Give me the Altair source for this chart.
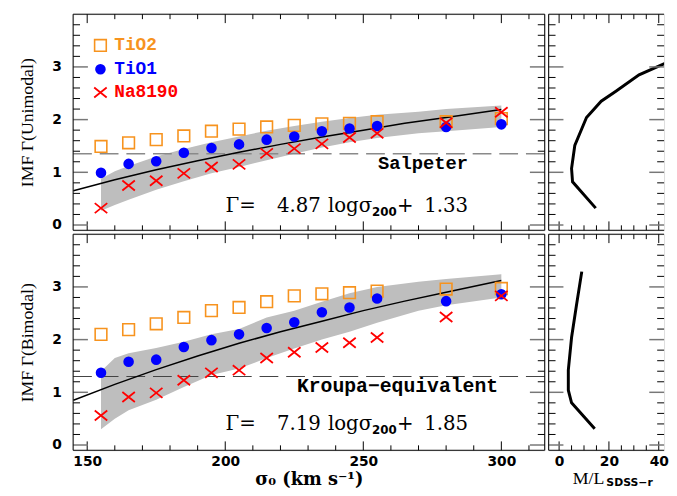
import altair as alt
import pandas as pd

# ---------------- values ----------------
sigma = [155, 165, 175, 185, 195, 205, 215, 225, 235, 245, 255, 280, 300]

uni_tio2 = [1.49, 1.56, 1.62, 1.69, 1.78, 1.82, 1.86, 1.89, 1.92, 1.93, 1.96, 1.96, 2.02]
uni_tio1 = [0.99, 1.16, 1.21, 1.37, 1.46, 1.53, 1.62, 1.68, 1.78, 1.83, 1.88, 1.86, 1.91]
uni_na = [0.32, 0.75, 0.84, 0.98, 1.10, 1.15, 1.36, 1.45, 1.54, 1.66, 1.74, 1.94, 2.14]

bi_tio2 = [2.10, 2.19, 2.30, 2.42, 2.55, 2.61, 2.72, 2.83, 2.87, 2.89, 2.92, 2.96, 2.97]
bi_tio1 = [1.37, 1.58, 1.62, 1.86, 1.99, 2.10, 2.22, 2.33, 2.52, 2.61, 2.78, 2.73, 2.86]
bi_na = [0.56, 0.91, 0.99, 1.23, 1.37, 1.42, 1.65, 1.76, 1.85, 1.94, 2.04, 2.43, 2.83]

band_sigma = [155, 160, 165, 175, 185, 195, 205, 215, 225, 235, 245, 255, 270, 280, 300]
uni_band_lo = [0.27, 0.38, 0.48, 0.67, 0.83, 0.98, 1.10, 1.23, 1.35, 1.47, 1.57, 1.65, 1.74, 1.78, 1.86]
uni_band_hi = [0.88, 1.02, 1.12, 1.30, 1.44, 1.57, 1.68, 1.79, 1.88, 1.96, 2.03, 2.09, 2.15, 2.20, 2.27]
bi_band_lo = [0.30, 0.50, 0.66, 0.86, 1.10, 1.33, 1.45, 1.65, 1.83, 2.00, 2.15, 2.32, 2.55, 2.65, 2.80]
bi_band_hi = [1.40, 1.65, 1.74, 1.84, 1.96, 2.10, 2.20, 2.42, 2.55, 2.72, 2.88, 3.00, 3.10, 3.15, 3.24]

fit_sigma = [145, 160, 175, 190, 205, 220, 235, 250, 265, 280, 300]
uni_fit = [0.65, 0.86, 1.05, 1.22, 1.38, 1.53, 1.67, 1.80, 1.93, 2.04, 2.19]
bi_fit = [0.85, 1.15, 1.43, 1.69, 1.93, 2.15, 2.35, 2.55, 2.73, 2.90, 3.12]

uni_ml = [14.7, 5.4, 5.0, 6.3, 11.0, 16.9, 22.8, 32.1, 45.4]
uni_ml_gamma = [0.32, 0.82, 1.07, 1.51, 2.04, 2.35, 2.54, 2.85, 3.13]
bi_ml = [14.3, 5.0, 3.7, 3.7, 5.0, 7.0, 9.1]
bi_ml_gamma = [0.31, 0.80, 1.04, 1.42, 2.04, 2.66, 3.29]

salpeter_gamma = 1.35
kroupa_gamma = 1.30

series_names = ["TiO2", "TiO1", "Na8190"]
uni_formula = ["4.87", "1.33"]
bi_formula = ["7.19", "1.85"]

x_major = [150, 200, 250, 300]
x_minor = [160, 170, 180, 190, 210, 220, 230, 240, 260, 270, 280, 290, 310]
y_major = [0, 1, 2, 3]
y_minor = [0.2, 0.4, 0.6, 0.8, 1.2, 1.4, 1.6, 1.8, 2.2, 2.4, 2.6, 2.8, 3.2, 3.4, 3.6, 3.8]
ml_major = [0, 20, 40]
ml_minor = [5, 10, 15, 25, 30, 35]

# ---------------- styling ----------------
WL, WR, H = 478, 117, 219
ORANGE, BLUE, RED = "#f7931e", "#0000ff", "#ff0000"
CROSS = "M-1,-0.8L1,0.8M-1,0.8L1,-0.8"

sxL = alt.Scale(domain=[144.9, 315.7], nice=False, zero=False)
sxR = alt.Scale(domain=[-4.2, -4.2 + WR / 2.525], nice=False, zero=False)
sy = alt.Scale(domain=[-0.1, 4.0], nice=False, zero=False)

lab = dict(labelFont="DejaVu Sans", labelFontWeight="bold", labelFontSize=14,
           labelColor="black", ticks=False, domain=False, grid=False)


def yaxis(title):
    return alt.Axis(values=y_major, labelPadding=12, title=title, titleFont="Liberation Serif",
                    titleFontSize=18, titleFontWeight="normal", titleColor="black",
                    titlePadding=15, **lab)


xax_bot = alt.Axis(values=x_major, labelPadding=4, title="σ₀ (km s⁻¹)", titleFont="DejaVu Serif",
                   titleFontWeight="bold", titleFontSize=18, titleColor="black", titlePadding=3, **lab)
xax_ml = alt.Axis(values=ml_major, labelPadding=4, title=None, **lab)

one = pd.DataFrame({"k": [0]})


def ticks(sx, xax, yax, xmaj, xmin, W):
    layers = []
    for vals, ln in [(xmaj, 9), (xmin, 5)]:
        base = alt.Chart(pd.DataFrame({"v": vals})).mark_rule(color="black", strokeWidth=1)
        X = alt.X("v:Q", scale=sx, axis=xax)
        layers.append(base.encode(x=X, y=alt.value(H), y2=alt.value(H - ln)))
        layers.append(base.encode(x=X, y=alt.value(0), y2=alt.value(ln)))
    for vals, ln, col, sw in [(y_major, 15, "#777777", 1.5), (y_minor, 7, "black", 1)]:
        base = alt.Chart(pd.DataFrame({"v": vals})).mark_rule(color=col, strokeWidth=sw)
        Y = alt.Y("v:Q", scale=sy, axis=yax)
        layers.append(base.encode(y=Y, x=alt.value(0), x2=alt.value(ln)))
        layers.append(base.encode(y=Y, x=alt.value(W), x2=alt.value(W - ln)))
    return layers


def frame(W, right=True):
    sides = [dict(x=alt.value(0), x2=alt.value(W), y=alt.value(0)),
             dict(x=alt.value(0), x2=alt.value(W), y=alt.value(H)),
             dict(x=alt.value(0), y=alt.value(0), y2=alt.value(H))]
    if right:
        sides.append(dict(x=alt.value(W), y=alt.value(0), y2=alt.value(H)))
    return [alt.Chart(one).mark_rule(color="black", strokeWidth=1).encode(**s) for s in sides]


def left_panel(tio2, tio1, na, lo, hi, fit, ref_g, ref_label, ref_pos, ref_size, ref_col,
               formula, f_y, xax, yax, legend):
    X = lambda f: alt.X(f, type="quantitative", scale=sxL, axis=xax)
    Y = lambda f: alt.Y(f, type="quantitative", scale=sy, axis=yax)
    XD = lambda v: alt.XDatum(v, scale=sxL, axis=xax)
    YD = lambda v: alt.YDatum(v, scale=sy, axis=yax)

    pts = pd.DataFrame({"x": sigma, "a": tio2, "b": tio1, "c": na})
    band = pd.DataFrame({"x": band_sigma, "lo": lo, "hi": hi})
    fitdf = pd.DataFrame({"x": fit_sigma, "g": fit})

    layers = [
        alt.Chart(band).mark_area(color="#bebebe", opacity=1).encode(x=X("x"), y=Y("lo"), y2=alt.Y2("hi")),
        alt.Chart(one).mark_rule(color=ref_col[0], strokeWidth=ref_col[1], strokeDash=[19, 8]).encode(y=YD(ref_g)),
        alt.Chart(fitdf).mark_line(color="black", strokeWidth=1.5).encode(x=X("x"), y=Y("g")),
        alt.Chart(pts).mark_point(shape="square", filled=False, color=ORANGE, size=140,
                                  strokeWidth=1.6, opacity=1).encode(x=X("x"), y=Y("a")),
        alt.Chart(pts).mark_point(shape="circle", filled=True, color=BLUE, size=115,
                                  opacity=1).encode(x=X("x"), y=Y("b")),
        alt.Chart(pts).mark_point(shape=CROSS, filled=False, color=RED, size=160,
                                  strokeWidth=1.8, opacity=1).encode(x=X("x"), y=Y("c")),
        alt.Chart(one).mark_text(font="Liberation Mono", fontSize=ref_size, fontWeight="bold",
                                 color="black", baseline="middle").encode(
            x=XD(ref_pos[0]), y=YD(ref_pos[1]), text=alt.value(ref_label)),
    ]
    pieces = [("Γ=", 205.6, 0, 20, "DejaVu Serif", "normal"),
              (formula[0], 226.7, 0, 20, "DejaVu Serif", "normal"),
              ("logσ", 245.2, 0, 20, "DejaVu Serif", "normal"),
              ("200", 257.6, 6, 12, "DejaVu Sans", "bold"),
              ("+", 265.2, 0, 20, "DejaVu Serif", "normal"),
              (formula[1], 280.0, 0, 20, "DejaVu Serif", "normal")]
    for t, xv, dy, fs, font, fw in pieces:
        layers.append(alt.Chart(one).mark_text(font=font, fontSize=fs, fontWeight=fw, color="black",
                                               baseline="middle", dy=dy).encode(
            x=XD(xv), y=YD(f_y), text=alt.value(t)))
    if legend:
        ys = [31.7, 55.7, 79.3]
        layers += [
            alt.Chart(one).mark_point(shape="square", filled=False, color=ORANGE, size=140,
                                      strokeWidth=1.6, opacity=1).encode(x=alt.value(27.7), y=alt.value(ys[0])),
            alt.Chart(one).mark_point(shape="circle", filled=True, color=BLUE, size=115,
                                      opacity=1).encode(x=alt.value(27.7), y=alt.value(ys[1])),
            alt.Chart(one).mark_point(shape=CROSS, filled=False, color=RED, size=160,
                                      strokeWidth=1.8, opacity=1).encode(x=alt.value(27.7), y=alt.value(ys[2])),
        ]
        for name, yv, col in zip(series_names, ys, [ORANGE, BLUE, RED]):
            layers.append(alt.Chart(one).mark_text(font="Liberation Mono", fontSize=18, fontWeight="bold",
                                                   color=col, align="left", baseline="middle").encode(
                x=alt.value(41.7), y=alt.value(yv), text=alt.value(name)))
    layers += ticks(sxL, xax, yax, x_major, x_minor, WL)
    layers += frame(WL, True)
    return alt.layer(*layers).properties(width=WL, height=H)


def right_panel(ml, g, xax, title):
    df = pd.DataFrame({"m": ml, "g": g, "i": list(range(len(ml)))})
    layers = [
        alt.Chart(df).mark_line(color="black", strokeWidth=3, clip=True).encode(
            x=alt.X("m:Q", scale=sxR, axis=xax), y=alt.Y("g:Q", scale=sy, axis=None),
            order=alt.Order("i:Q")),
    ]
    layers += ticks(sxR, xax, None, ml_major, ml_minor, WR)
    if title:
        layers += [
            alt.Chart(one).mark_text(font="Liberation Serif", fontSize=18, color="black",
                                     baseline="middle").encode(
                x=alt.value(40.5), y=alt.value(H + 29), text=alt.value("M/L")),
            alt.Chart(one).mark_text(font="DejaVu Sans", fontSize=11, fontWeight="bold", color="black",
                                     align="left", baseline="middle").encode(
                x=alt.value(58.5), y=alt.value(H + 33), text=alt.value("SDSS−r")),
        ]
    layers += frame(WR, False)
    return alt.layer(*layers).properties(width=WR, height=H)


TL = left_panel(uni_tio2, uni_tio1, uni_na, uni_band_lo, uni_band_hi, uni_fit, salpeter_gamma,
                "Salpeter", (271.6, 1.18), 19, ("#8a8a8a", 1.5), uni_formula, 0.35,
                None, yaxis("IMF Γ(Unimodal)"), True)
BL = left_panel(bi_tio2, bi_tio1, bi_na, bi_band_lo, bi_band_hi, bi_fit, kroupa_gamma,
                "Kroupa−equivalent", (262.4, 1.12), 20, ("#444444", 1.2), bi_formula, 0.39,
                xax_bot, yaxis("IMF Γ(Bimodal)"), False)
TR = right_panel(uni_ml, uni_ml_gamma, None, False)
BR = right_panel(bi_ml, bi_ml_gamma, xax_ml, True)

chart = alt.concat(TL, TR, BL, BR, columns=2, spacing=0).properties(
    padding={"left": 10, "top": 2, "right": 0, "bottom": 0}
).configure_view(stroke=None).configure(background="white")

chart.save("out.html", embed_options={"renderer": "svg", "actions": False})
